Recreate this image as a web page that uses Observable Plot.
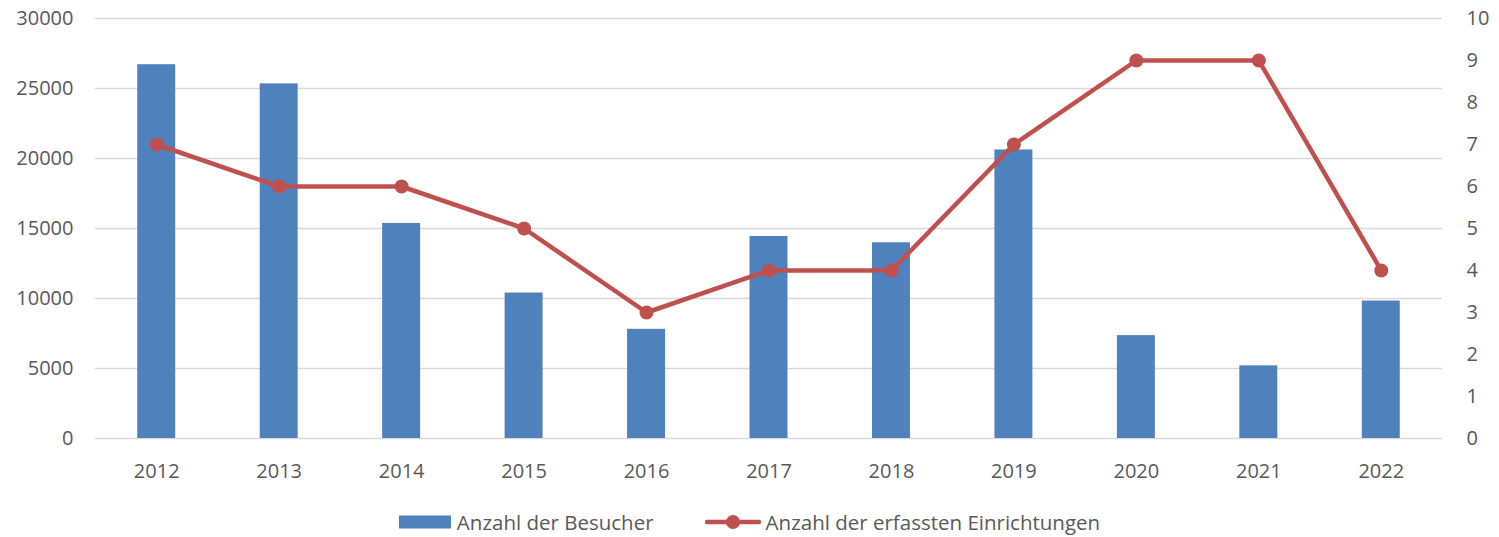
<!DOCTYPE html>
<html>
<head>
<meta charset="utf-8">
<script src="https://cdn.jsdelivr.net/npm/d3@7"></script>
<script src="https://cdn.jsdelivr.net/npm/@observablehq/plot@0.6"></script>
<style>
  html, body { margin: 0; padding: 0; background: #ffffff; }
  #chart { width: 1499px; height: 537px; position: relative; font-family: "Open Sans", sans-serif; color: #595959; }
  #legend { position: absolute; left: 0; top: 490px; width: 1499px; height: 47px; box-sizing: border-box; padding-top: 16px;
            display: flex; justify-content: center; align-items: center; font-size: 20.5px; color: #595959; }
  .item { display: flex; align-items: center; }
  .item svg { display: block; }
</style>
</head>
<body>
<div id="chart"></div>
<script>
// ---- data ----
const years = [2012, 2013, 2014, 2015, 2016, 2017, 2018, 2019, 2020, 2021, 2022];
const visitors = [26700, 25330, 15360, 10390, 7800, 14430, 13980, 20610, 7350, 5190, 9820];
const facilities = [7, 6, 6, 5, 3, 4, 4, 7, 9, 9, 4];
const leftTicks = [0, 5000, 10000, 15000, 20000, 25000, 30000];
const rightTicks = [0, 1, 2, 3, 4, 5, 6, 7, 8, 9, 10];
const seriesNames = ["Anzahl der Besucher", "Anzahl der erfassten Einrichtungen"];

// secondary axis (0..10) mapped onto primary (0..30000)
const ratio = 30000 / 10;

const data = years.map((y, i) => ({year: y, visitors: visitors[i], facilities: facilities[i]}));

const blue = "#4F81BD";
const red = "#C0504D";

const plot = Plot.plot({
  width: 1499,
  height: 490,
  marginTop: 18,
  marginBottom: 52,
  marginLeft: 95,
  marginRight: 57,
  style: {fontFamily: "'Open Sans', sans-serif", fontSize: "20px", color: "#595959", background: "white"},
  x: {type: "band", domain: years, paddingInner: 0.69, paddingOuter: 0.345, round: false, axis: null},
  y: {domain: [0, 30000], axis: null},
  marks: [
    Plot.ruleY(leftTicks, {stroke: "#d9d9d9", strokeWidth: 1.5}),
    Plot.barY(data, {x: "year", y: "visitors", fill: blue}),
    Plot.line(data, {x: "year", y: d => d.facilities * ratio, stroke: red, strokeWidth: 4.5}),
    Plot.dot(data, {x: "year", y: d => d.facilities * ratio, r: 7, fill: red, stroke: "none"}),
    Plot.axisX({anchor: "bottom", label: null, tickSize: 0, tickPadding: 25, tickFormat: d => String(d), fill: "#595959"}),
    Plot.axisY(leftTicks, {anchor: "left", label: null, tickSize: 0, tickPadding: 22, tickFormat: d => String(d), fill: "#595959"}),
    Plot.axisY(rightTicks.map(v => v * ratio), {anchor: "right", label: null, tickSize: 0, tickPadding: 24, tickFormat: d => String(Math.round(d / ratio)), fill: "#595959"})
  ]
});

const chart = document.getElementById("chart");
chart.appendChild(plot);

const legend = document.createElement("div");
legend.id = "legend";
legend.innerHTML = `
  <div class="item">
    <svg width="52" height="14"><rect x="0" y="0.5" width="52" height="13" fill="${blue}"></rect></svg>
    <span style="margin-left:6px">${seriesNames[0]}</span>
  </div>
  <div class="item" style="margin-left:51px">
    <svg width="56" height="16"><line x1="2" y1="8" x2="54" y2="8" stroke="${red}" stroke-width="4.5" stroke-linecap="round"></line><circle cx="28" cy="8" r="7" fill="${red}"></circle></svg>
    <span style="margin-left:5px">${seriesNames[1]}</span>
  </div>`;
chart.appendChild(legend);
</script>
</body>
</html>
